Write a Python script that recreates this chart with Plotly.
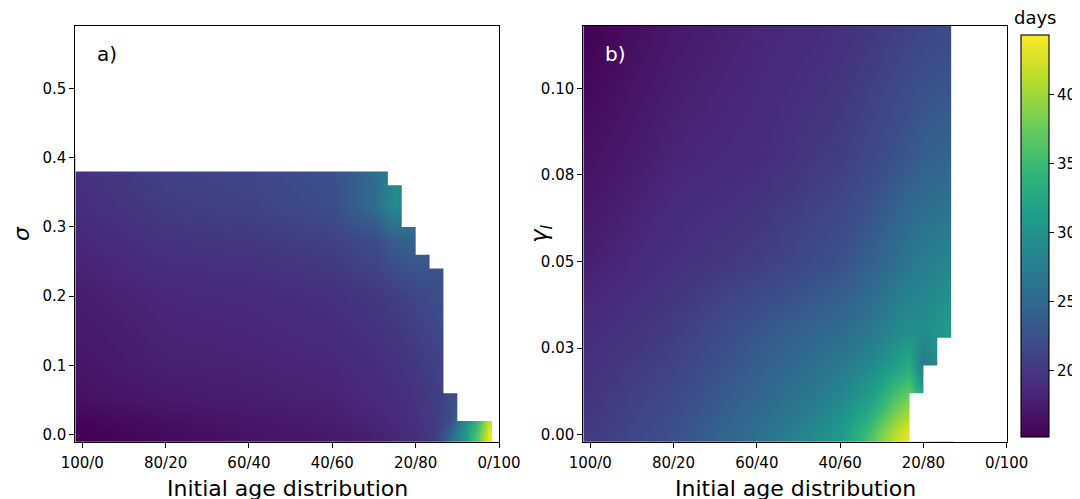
import plotly.graph_objects as go

# ---------------- data ----------------
tick_labels = ["100/0", "80/20", "60/40", "40/60", "20/80", "0/100"]
tick_pos = [0, 6, 12, 18, 24, 30]

# panel a: sigma vs. initial age distribution (days)
xa = [0, 6, 12, 18, 21, 22.5, 24, 25.5, 26.5, 27.5, 28.5, 29.3]
ya = [0.0, 0.02, 0.05, 0.1, 0.2, 0.28, 0.33, 0.38]
za = [
    [15.2, 16.0, 16.7, 17.2, 17.8, 18.3, 19.0, 20.5, 25.0, 30.5, 37.0, 43.5],
    [15.6, 16.4, 17.0, 17.6, 18.2, 18.7, 19.4, 20.5, 22.0, 29.0, 35.0, 42.0],
    [16.5, 17.2, 17.6, 18.0, 18.6, 19.0, 19.6, 20.5, 22.0, 22.0, 22.0, 22.0],
    [17.0, 17.8, 18.0, 18.4, 19.0, 19.4, 20.0, 20.8, 21.0, 21.0, 21.0, 21.0],
    [17.6, 18.4, 18.7, 19.3, 20.0, 20.6, 21.3, 22.2, 22.5, 22.5, 22.5, 22.5],
    [18.4, 19.6, 20.0, 20.8, 22.0, 23.8, 24.5, 23.0, 23.0, 23.0, 23.0, 23.0],
    [19.1, 20.4, 20.9, 22.1, 25.5, 29.5, 26.5, 25.0, 25.0, 25.0, 25.0, 25.0],
    [19.4, 20.8, 21.3, 22.4, 25.3, 29.0, 26.5, 25.0, 25.0, 25.0, 25.0, 25.0],
]
# upper limit of the valid sigma region, per column band
a_band_edges = [-0.5, 22, 23, 24, 25, 26, 27, 29.5]
a_band_top = [0.38, 0.36, 0.30, 0.26, 0.24, 0.06, 0.02]

# panel b: gamma_I vs. initial age distribution (days)
xb = [0, 6, 12, 16, 18, 20, 21, 22, 23, 24, 25.5]
yb = [0.0, 0.006, 0.012, 0.02, 0.03, 0.05, 0.08, 0.116]
zb = [
    [20.2, 22.5, 26.0, 29.0, 31.0, 35.5, 38.5, 41.5, 43.5, 40.0, 35.0],
    [20.0, 22.0, 25.2, 27.8, 29.8, 33.0, 35.5, 38.5, 40.5, 35.0, 32.0],
    [19.7, 21.6, 24.6, 26.8, 28.5, 31.0, 33.0, 35.5, 37.0, 32.0, 31.0],
    [19.4, 21.0, 23.8, 25.8, 27.0, 28.8, 30.0, 31.5, 33.0, 27.0, 30.5],
    [19.0, 20.4, 23.0, 24.6, 25.3, 26.8, 27.8, 28.8, 29.8, 29.5, 31.0],
    [17.8, 19.3, 20.5, 21.8, 22.6, 24.0, 24.8, 25.8, 26.8, 27.5, 28.5],
    [16.6, 18.2, 18.9, 20.0, 20.5, 21.5, 22.0, 22.6, 23.3, 24.0, 24.5],
    [15.4, 17.2, 18.3, 18.9, 19.3, 19.9, 20.3, 20.7, 21.0, 21.4, 21.8],
]
# lower limit of the valid gamma region, per column band (None = no data)
b_band_edges = [-0.5, 23, 24, 25, 26, 30]
b_band_bottom = [-0.002, 0.012, 0.020, 0.028, None]

gamma_ticks = [0.0, 0.025, 0.05, 0.075, 0.1]
gamma_tick_text = ["0.00", "0.03", "0.05", "0.08", "0.10"]
sigma_ticks = [0.0, 0.1, 0.2, 0.3, 0.4, 0.5]
cb_ticks = [20, 25, 30, 35, 40]
c_min, c_max = 15.2, 44.35

xr = [-0.5, 30]
ya_r = [-0.01, 0.59]
yb_r = [-0.002, 0.118]

# ---------------- figure ----------------
# the page has an 8 px body margin, so the figure is 8 px smaller than the window
OFF = 8
W, H = 1080 - OFF, 499 - OFF


def px(p):
    return (p - OFF) / W


def py(p):
    return 1 - (p - OFF) / H


fig = go.Figure()

fig.add_trace(go.Heatmap(x=xa, y=ya, z=za, zsmooth="best", coloraxis="coloraxis",
                         xaxis="x", yaxis="y", hoverinfo="skip"))
fig.add_trace(go.Heatmap(x=xb, y=yb, z=zb, zsmooth="best", coloraxis="coloraxis",
                         xaxis="x2", yaxis="y2", hoverinfo="skip"))

# white mask over the invalid region of panel a (built from the boundary arrays)
mx, my = [], []
for i, top in enumerate(a_band_top):
    mx += [a_band_edges[i], a_band_edges[i + 1]]
    my += [top, top]
mx += [a_band_edges[-1], xr[1], xr[1], xr[0]]
my += [ya_r[0], ya_r[0], ya_r[1], ya_r[1]]
fig.add_trace(go.Scatter(x=mx, y=my, fill="toself", fillcolor="white", mode="lines",
                         line=dict(width=0, color="white"), xaxis="x", yaxis="y",
                         hoverinfo="skip", showlegend=False))

# white mask over the invalid region of panel b
nx, ny = [], []
for i, bot in enumerate(b_band_bottom):
    b = yb_r[1] if bot is None else bot
    nx += [b_band_edges[i], b_band_edges[i + 1]]
    ny += [b, b]
nx += [xr[1], xr[0]]
ny += [yb_r[0], yb_r[0]]
fig.add_trace(go.Scatter(x=nx, y=ny, fill="toself", fillcolor="white", mode="lines",
                         line=dict(width=0, color="white"), xaxis="x2", yaxis="y2",
                         hoverinfo="skip", showlegend=False))

FONT = "DejaVu Sans"
tickfont = dict(family=FONT, size=15, color="black")
axis_common = dict(showline=True, linecolor="black", linewidth=1.1, mirror=True,
                   ticks="outside", ticklen=5, tickwidth=1.1, tickcolor="black",
                   showgrid=False, zeroline=False, tickfont=tickfont, automargin=False)

ydom = [py(441.7), py(26)]
fig.update_layout(
    width=W, height=H,
    margin=dict(l=0, r=0, t=0, b=0),
    paper_bgcolor="white", plot_bgcolor="white",
    showlegend=False,
    xaxis=dict(domain=[px(75.3), px(499)], range=xr, tickvals=tick_pos, ticktext=tick_labels,
               anchor="y", ticklabelstandoff=2, **axis_common),
    yaxis=dict(domain=ydom, range=ya_r, tickvals=sigma_ticks,
               ticktext=[f"{v:.1f}" for v in sigma_ticks], anchor="x", **axis_common),
    xaxis2=dict(domain=[px(583.3), px(1006.7)], range=xr, tickvals=tick_pos,
                ticktext=tick_labels, anchor="y2", ticklabelstandoff=2, **axis_common),
    yaxis2=dict(domain=ydom, range=yb_r, tickvals=gamma_ticks, ticktext=gamma_tick_text,
                anchor="x2", **axis_common),
    coloraxis=dict(
        colorscale="Viridis", cmin=c_min, cmax=c_max,
        colorbar=dict(
            x=px(1021), xanchor="left", xpad=0, ypad=0,
            y=py((35 + 436.7) / 2), yanchor="middle",
            len=(436.7 - 35) / H, lenmode="fraction", thickness=28,
            outlinecolor="black", outlinewidth=1.1,
            tickvals=cb_ticks, ticks="outside", ticklen=5, tickwidth=1.1, tickcolor="black",
            tickfont=tickfont,
        ),
    ),
    annotations=[
        dict(text="days", x=px(1035), y=py(18), xref="paper", yref="paper", showarrow=False,
             font=dict(family=FONT, size=18, color="black"), xanchor="center",
             yanchor="middle"),
        dict(text="a)", x=px(107), y=py(54), xref="paper", yref="paper", showarrow=False,
             font=dict(family=FONT, size=20, color="black"), xanchor="center", yanchor="middle"),
        dict(text="b)", x=px(615), y=py(54), xref="paper", yref="paper", showarrow=False,
             font=dict(family=FONT, size=20, color="white"), xanchor="center", yanchor="middle"),
        dict(text="σ", x=px(21), y=py(234), xref="paper", yref="paper", showarrow=False,
             textangle=-90, font=dict(family=FONT, size=22, color="black", style="italic"),
             xanchor="center", yanchor="middle"),
        dict(text="γ<sub>I</sub>", x=px(541), y=py(234), xref="paper", yref="paper",
             showarrow=False, textangle=-90,
             font=dict(family=FONT, size=23, color="black", style="italic"),
             xanchor="center", yanchor="middle"),
        dict(text="Initial age distribution", x=px(287.2), y=py(488), xref="paper",
             yref="paper", showarrow=False, font=dict(family=FONT, size=22, color="black"),
             xanchor="center", yanchor="middle"),
        dict(text="Initial age distribution", x=px(795), y=py(488), xref="paper",
             yref="paper", showarrow=False, font=dict(family=FONT, size=22, color="black"),
             xanchor="center", yanchor="middle"),
    ],
)

fig.write_html("out.html")
